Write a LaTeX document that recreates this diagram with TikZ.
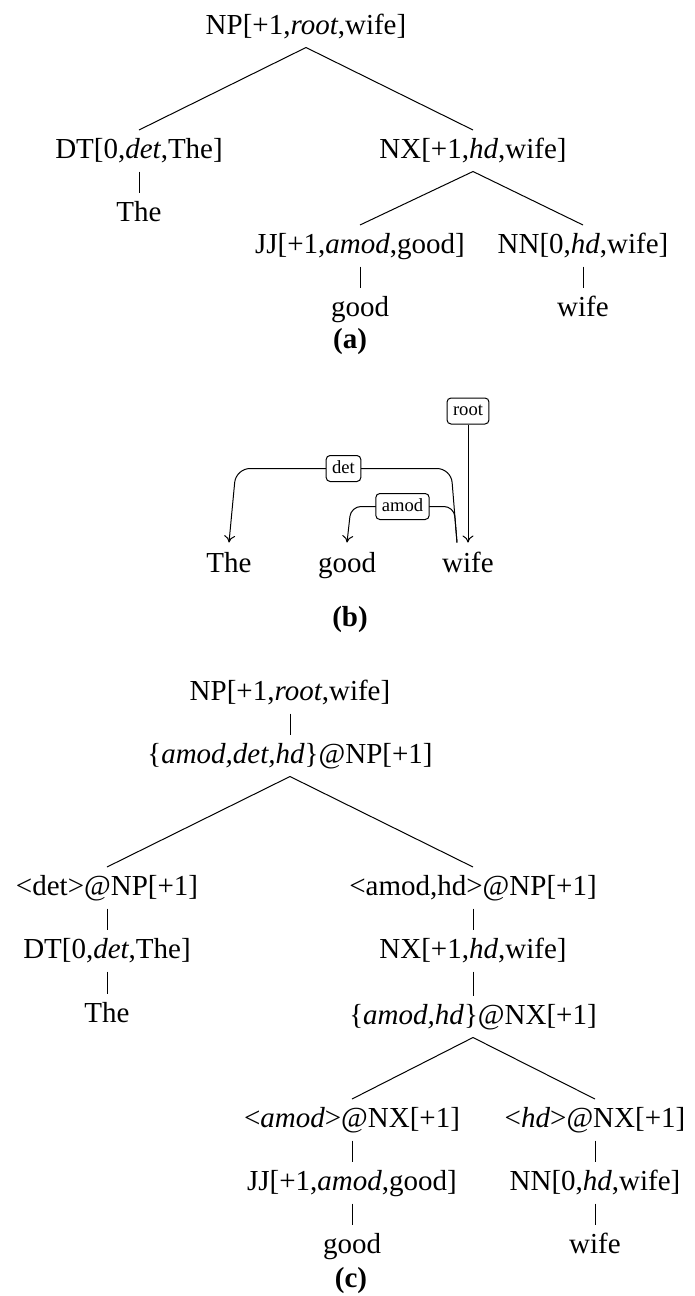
\documentclass[tikz,border=0pt]{standalone}
\usepackage{fontspec}
\setmainfont{Liberation Serif}
\usetikzlibrary{arrows.meta,calc}

\begin{document}
\begin{tikzpicture}[x=1pt,y=-1pt,line width=1pt,
  tn/.style={anchor=base,inner xsep=2pt,inner ysep=6pt,text height=21.5pt,text depth=7pt,
             font=\fontsize{29}{34}\selectfont},
  wd/.style={anchor=base,inner xsep=2pt,inner ysep=9pt,text height=20pt,text depth=6pt,
             font=\fontsize{29}{34}\selectfont},
  capt/.style={anchor=base,inner sep=0pt,font=\fontsize{29}{34}\selectfont\bfseries},
  lbl/.style={draw,fill=white,rounded corners=4pt,inner xsep=6pt,inner ysep=4.5pt,
              text height=13pt,text depth=4pt,font=\fontsize{18.6}{22}\selectfont},
  tip/.style={-{Computer Modern Rightarrow[length=7pt,width=11pt]}},
  dep/.style={tip,rounded corners=12pt}]
\useasboundingbox (0,0) rectangle (694,1296);

% ---------- (a) phrase-structure tree ----------
\node[tn] (a0) at (306,34)  {NP[+1,\textit{root},wife]};
\node[tn] (a1) at (139,158) {DT[0,\textit{det},The]};
\node[tn] (a2) at (473,158) {NX[+1,\textit{hd},wife]};
\node[tn] (a3) at (139,221) {The};
\node[tn] (a4) at (360,253) {JJ[+1,\textit{amod},good]};
\node[tn] (a5) at (583,253) {NN[0,\textit{hd},wife]};
\node[tn] (a6) at (360,316) {good};
\node[tn] (a7) at (583,316) {wife};
\node[capt] (capa) at (350,348) {(a)};
\draw (a0.south) -- (a1.north);
\draw (a0.south) -- (a2.north);
\draw (a1.south) -- (a3.north);
\draw (a2.south) -- (a4.north);
\draw (a2.south) -- (a5.north);
\draw (a4.south) -- (a6.north);
\draw (a5.south) -- (a7.north);

% ---------- (b) dependency arcs ----------
\node[wd] (bThe)  at (229,572) {The};
\node[wd] (bgood) at (347,572) {good};
\node[wd] (bwife) at (468,572) {wife};
\node[lbl] (broot) at (468,411) {root};
\node[capt] (capb) at (350,626) {(b)};
\coordinate (src) at ($(bwife.north)+(-11,0)$);
\draw[tip] (broot.south) -- (bwife.north);
\draw[dep,rounded corners=14pt] (src) -- ($(src)+(-6,-74)$)
  -- node[lbl] (bdet) {det} ($(bThe.north)+(7,-74)$) -- (bThe.north);
\draw[dep,rounded corners=10pt] (src) -- ($(src)+(-3,-36)$)
  -- node[lbl] (bamod) {amod} ($(bgood.north)+(4,-36)$) -- (bgood.north);

% ---------- (c) binarised tree ----------
\node[tn] (c0)  at (290,700)  {NP[+1,\textit{root},wife]};
\node[tn] (c1)  at (290,763)  {\{\textit{amod,det,hd}\}@NP[+1]};
\node[tn] (c2)  at (107,895)  {<det>@NP[+1]};
\node[tn] (c3)  at (107,958)  {DT[0,\textit{det},The]};
\node[tn] (c4)  at (107,1022) {The};
\node[tn] (c5)  at (473,895)  {<amod,hd>@NP[+1]};
\node[tn] (c6)  at (473,958)  {NX[+1,\textit{hd},wife]};
\node[tn] (c7)  at (473,1024) {\{\textit{amod,hd}\}@NX[+1]};
\node[tn] (c8)  at (352,1127) {<\textit{amod}>@NX[+1]};
\node[tn] (c9)  at (352,1190) {JJ[+1,\textit{amod},good]};
\node[tn] (c10) at (352,1253) {good};
\node[tn] (c11) at (595,1127) {<\textit{hd}>@NX[+1]};
\node[tn] (c12) at (595,1190) {NN[0,\textit{hd},wife]};
\node[tn] (c13) at (595,1253) {wife};
\node[capt] (capc) at (351,1287) {(c)};
\draw (c0.south) -- (c1.north);
\draw (c1.south) -- (c2.north);
\draw (c1.south) -- (c5.north);
\draw (c2.south) -- (c3.north);
\draw (c3.south) -- (c4.north);
\draw (c5.south) -- (c6.north);
\draw (c6.south) -- (c7.north);
\draw (c7.south) -- (c8.north);
\draw (c7.south) -- (c11.north);
\draw (c8.south) -- (c9.north);
\draw (c9.south) -- (c10.north);
\draw (c11.south) -- (c12.north);
\draw (c12.south) -- (c13.north);
\end{tikzpicture}
\end{document}
